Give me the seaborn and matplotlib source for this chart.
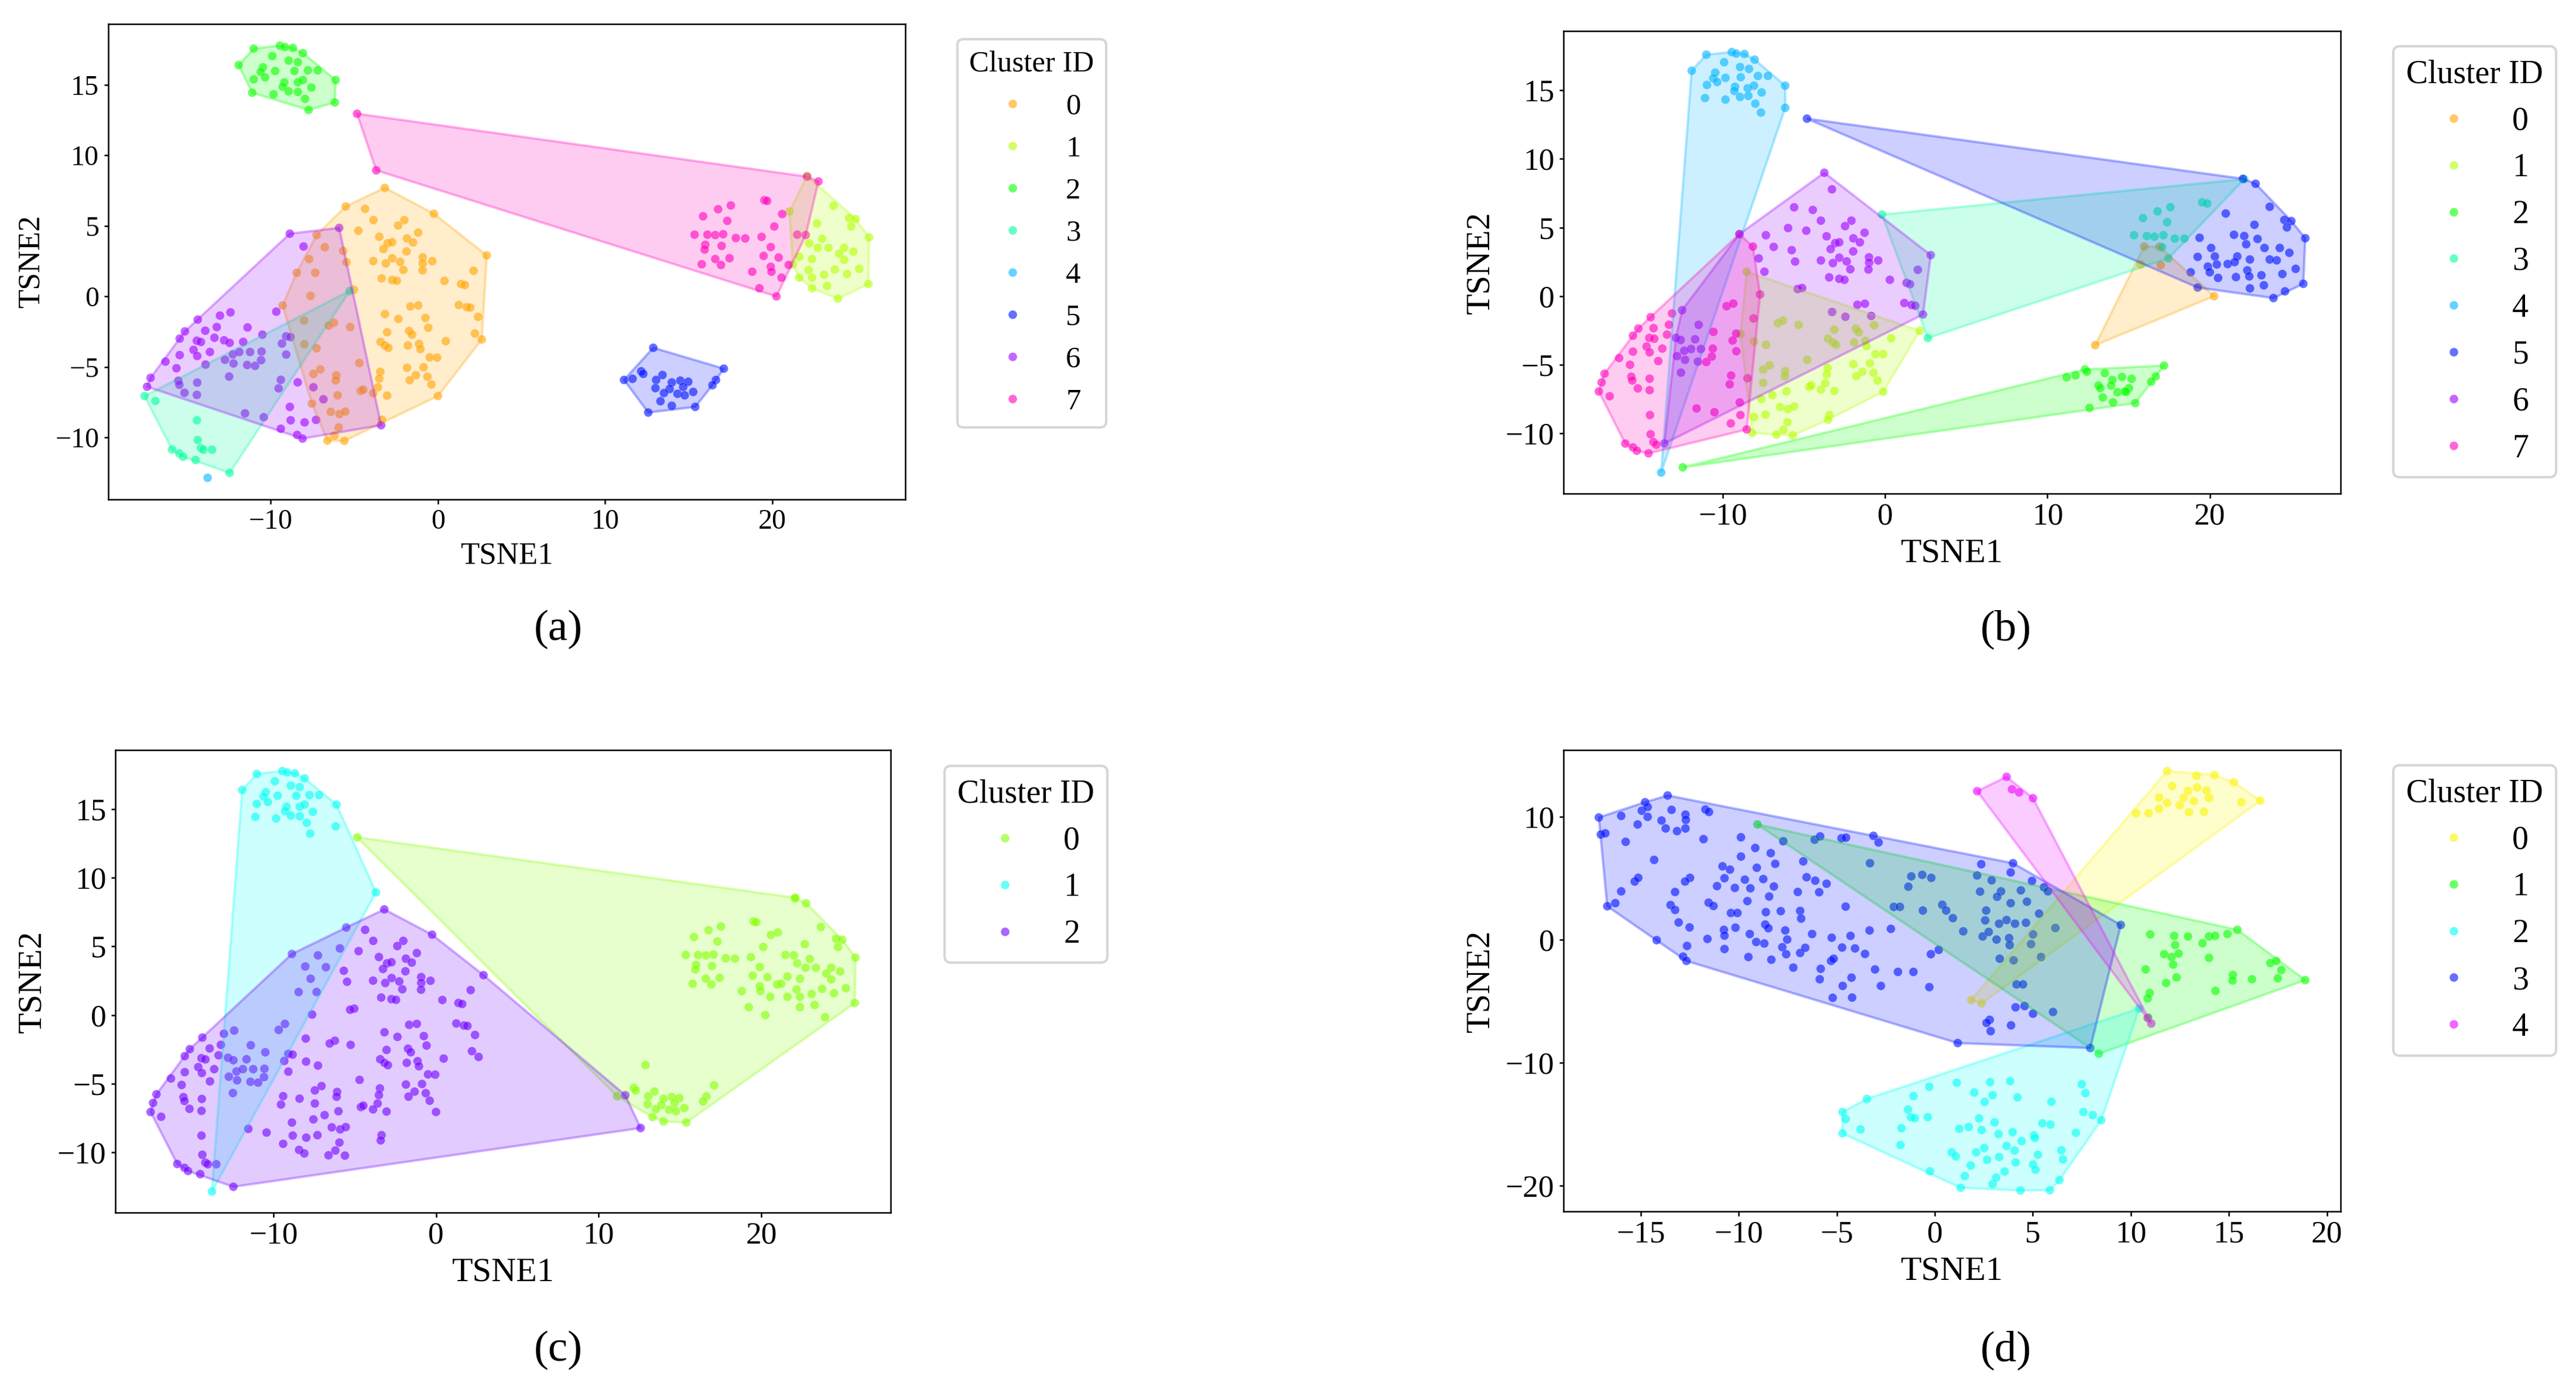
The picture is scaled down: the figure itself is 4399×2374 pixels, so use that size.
import matplotlib
matplotlib.use('Agg')
import matplotlib.pyplot as plt
import pandas as pd
import seaborn as sns
from matplotlib.patches import Polygon
from matplotlib.ticker import MultipleLocator

# --------------------------------------------------
# shared t-SNE embedding used by panels (a) and (c)
TOP_BLOB = [(-11.92, 16.40), (-11.02, 17.57), (-9.45, 17.78), (-9.15, 17.68), (-8.68, 17.62),
            (-8.08, 17.25), (-9.91, 17.04), (-8.93, 16.72), (-8.38, 16.61), (-10.47, 16.24),
            (-10.60, 15.92), (-9.74, 15.98), (-8.59, 15.98), (-7.78, 16.03), (-7.19, 16.03),
            (-11.02, 15.39), (-10.34, 15.53), (-9.19, 15.18), (-9.28, 14.86), (-8.38, 15.18),
            (-8.08, 15.34), (-6.12, 15.34), (-7.57, 14.81), (-8.93, 14.54), (-9.83, 14.33),
            (-11.11, 14.44), (-7.95, 14.01), (-6.17, 13.75), (-7.74, 13.22), (-8.38, 14.49)]

A0_ORANGE = [(-3.18, 7.70), (-5.52, 6.38), (-4.36, 6.21), (-0.24, 5.86), (-3.86, 5.41), (-2.01, 5.41),
             (-2.38, 5.03), (-4.76, 4.66), (-1.18, 4.52), (-7.26, 4.35), (-3.51, 4.23), (-1.85, 4.11),
             (-3.01, 3.77), (-2.74, 3.85), (-1.49, 3.83), (-6.77, 3.49), (-3.26, 3.36), (-1.88, 3.19),
             (-5.67, 3.23), (2.92, 2.91), (-7.71, 2.65), (-5.47, 2.43), (-3.87, 2.51), (-2.73, 2.70),
             (-2.26, 2.45), (-0.91, 2.77), (-0.91, 2.34), (-0.34, 2.50), (-3.12, 2.34), (-2.07, 1.88),
             (-0.92, 1.85), (2.13, 1.82), (-8.45, 1.68), (-7.34, 1.68), (-3.37, 1.28), (-2.74, 1.16),
             (-2.46, 1.11), (0.39, 1.10), (1.38, 0.88), (1.61, 0.81), (-5.03, 0.47), (-7.62, 0.04),
             (-1.65, -0.71), (-1.18, -0.64), (1.25, -0.61), (1.72, -0.76), (1.93, -0.79), (-9.29, -0.64),
             (-3.17, -1.25), (-2.37, -1.59), (-0.75, -1.53), (2.40, -1.45), (-8.01, -1.71), (-6.22, -1.87),
             (-6.54, -2.07), (-5.25, -2.17), (-3.04, -2.54), (-1.72, -2.45), (-1.55, -2.71), (-0.58, -2.22),
             (2.21, -2.63), (2.62, -3.05), (-7.99, -3.39), (-7.26, -3.68), (-3.43, -3.22), (-3.17, -3.48),
             (-2.96, -3.65), (-1.80, -3.48), (-1.13, -3.36), (-1.05, -3.73), (0.47, -3.17), (-0.49, -4.32),
             (-0.05, -4.34), (-4.70, -4.72), (-7.04, -5.17), (-7.45, -5.49), (-6.08, -5.60), (-6.11, -5.95),
             (-3.45, -5.34), (-3.51, -5.83), (-1.85, -5.06), (-0.86, -5.02), (-1.32, -5.58), (-0.63, -5.69),
             (-1.69, -5.94), (-0.39, -6.24), (-3.59, -6.44), (-4.62, -6.70), (-4.47, -6.60), (-3.87, -6.87),
             (-3.04, -7.03), (-6.00, -7.01), (0.00, -7.06), (-7.54, -7.60), (-6.41, -8.18), (-5.89, -8.33),
             (-5.55, -8.16), (-5.94, -9.29), (-3.35, -8.75), (-6.19, -9.87), (-6.61, -10.22), (-5.60, -10.24)]

A1_LIME = [(22.08, 8.55), (21.02, 6.02), (23.66, 6.42), (24.60, 5.55), (24.98, 5.49), (22.68, 5.17),
           (24.72, 4.96), (25.79, 4.19), (22.98, 4.09), (22.21, 3.77), (22.72, 3.45), (23.36, 3.45),
           (24.30, 3.45), (24.00, 3.03), (24.85, 3.18), (21.61, 2.81), (22.38, 2.65), (24.30, 2.60),
           (21.23, 2.28), (25.20, 1.96), (22.17, 1.86), (23.74, 1.91), (23.10, 1.54), (21.61, 1.33),
           (24.47, 1.59), (22.38, 1.33), (22.38, 0.58), (23.28, 0.74), (25.75, 0.88), (23.92, -0.16)]

A3_TEAL = [(-5.28, 0.39), (-17.55, -7.06), (-16.90, -7.41), (-14.42, -8.78), (-14.37, -10.18),
           (-14.18, -10.75), (-14.03, -10.87), (-13.51, -10.87), (-15.91, -10.85), (-15.47, -11.13),
           (-15.25, -11.36), (-14.50, -11.59), (-12.46, -12.51)]

LOW_BLOB = [(12.88, -3.64), (17.10, -5.12), (11.13, -5.92), (12.16, -5.31), (12.28, -5.49), (13.43, -5.57),
            (13.05, -5.92), (13.99, -6.10), (14.50, -5.97), (14.97, -6.05), (16.63, -5.92), (16.42, -6.29),
            (13.01, -6.50), (13.86, -6.56), (14.67, -6.42), (15.27, -6.77), (13.52, -6.85), (14.33, -6.90),
            (14.76, -7.01), (13.31, -7.43), (13.99, -7.75), (15.39, -7.83)]
LOW_EDGE = [(11.64, -5.84), (12.58, -8.23)]

A6_PURPLE = [(-8.86, 4.45), (-5.91, 4.86), (-8.04, 3.54), (-9.67, -1.08), (-12.41, -1.13), (-13.04, -1.36),
             (-14.37, -1.64), (-13.23, -2.17), (-11.39, -2.20), (-13.92, -2.43), (-15.14, -2.48),
             (-15.45, -2.99), (-13.37, -2.93), (-14.42, -3.14), (-14.18, -3.23), (-12.79, -3.11),
             (-12.46, -3.29), (-11.65, -3.22), (-10.50, -2.71), (-9.08, -2.83), (-8.82, -2.88),
             (-9.33, -3.34), (-14.62, -3.79), (-15.45, -4.16), (-14.40, -4.22), (-13.64, -3.94),
             (-12.27, -4.11), (-11.88, -3.94), (-11.24, -3.94), (-10.55, -3.91), (-12.74, -4.49),
             (-12.23, -4.75), (-11.41, -4.86), (-10.94, -4.92), (-10.58, -4.52), (-9.08, -4.12),
             (-16.30, -4.62), (-15.64, -5.09), (-13.90, -4.83), (-12.49, -5.68), (-17.19, -5.77),
             (-15.53, -5.98), (-15.47, -6.26), (-14.40, -6.11), (-9.40, -5.91), (-8.39, -6.09),
             (-17.40, -6.40), (-15.16, -6.83), (-14.42, -6.98), (-9.53, -6.52), (-7.45, -6.44),
             (-6.85, -7.29), (-11.54, -8.29), (-10.42, -8.56), (-8.86, -7.83), (-8.81, -8.78),
             (-7.98, -8.93), (-7.29, -8.75), (-9.40, -9.38), (-8.42, -9.82), (-8.10, -10.08), (-3.40, -9.13)]

A7_PINK = [(22.76, 8.15), (22.08, 8.49), (16.76, 6.18), (17.52, 6.45), (19.53, 6.82), (19.69, 6.77),
           (15.86, 5.68), (20.59, 5.84), (17.31, 5.36), (20.12, 4.96), (15.35, 4.38), (16.12, 4.38),
           (16.59, 4.35), (17.06, 4.41), (17.82, 4.14), (18.38, 4.11), (19.36, 4.22), (21.49, 4.38),
           (22.00, 4.35), (19.91, 3.50), (15.99, 3.66), (15.95, 3.32), (16.97, 3.58), (19.48, 2.87),
           (20.38, 2.76), (17.44, 2.71), (16.59, 2.65), (15.78, 2.28), (16.93, 2.23), (19.91, 2.10),
           (20.98, 2.23), (18.80, 1.75), (19.95, 1.75), (20.55, 1.33), (19.23, 0.58), (20.25, 0.00)]

FAR_PT = [(-4.84, 12.95)]
MID_PT = [(-3.69, 8.94)]
LOW_PT = [(-13.78, -12.86)]

# --------------------------------------------------
# panel (b)
B0_ORANGE = [(12.94, -3.57), (20.27, 0.00), (15.96, 3.62), (16.90, 3.60), (15.73, 2.31), (16.98, 2.26)]

B1_LIME = [(-8.53, 1.78), (-8.91, -2.75), (-8.08, -3.30), (-6.61, -1.97), (-6.30, -1.78), (-5.33, -2.09),
           (-7.34, -3.54), (-3.14, -2.44), (-1.80, -2.36), (-1.63, -2.63), (-0.68, -2.12), (-3.52, -3.10),
           (-3.22, -3.38), (-3.03, -3.54), (-1.91, -3.38), (-1.22, -3.26), (-1.15, -3.65), (0.37, -3.07),
           (2.13, -2.52), (-4.80, -4.64), (-0.60, -4.22), (-0.13, -4.22), (-7.52, -5.35), (-7.12, -5.04),
           (-6.16, -5.46), (-6.18, -5.83), (-3.55, -5.23), (-3.60, -5.70), (-1.96, -4.96), (-0.94, -4.89),
           (-1.41, -5.51), (-1.78, -5.83), (-0.72, -5.59), (-0.47, -6.14), (-7.52, -6.31), (-4.68, -6.61),
           (-4.55, -6.50), (-3.96, -6.80), (-3.69, -6.34), (-3.13, -6.91), (-6.08, -6.93), (-6.95, -7.21),
           (-7.62, -7.49), (-0.12, -6.96), (-6.47, -8.08), (-5.99, -8.23), (-5.61, -8.04), (-8.08, -8.80),
           (-7.37, -8.63), (-3.44, -8.66), (-3.52, -9.00), (-6.02, -9.18), (-6.27, -9.74), (-8.20, -9.96),
           (-6.70, -10.09), (-5.69, -10.14)]

B2_GREEN = [(-12.47, -12.47), (17.18, -5.06), (12.31, -5.34), (12.43, -5.50), (11.18, -5.91), (11.73, -5.77),
            (13.53, -5.61), (13.14, -6.51), (14.00, -6.10), (14.59, -5.88), (15.18, -6.02), (16.67, -5.85),
            (16.39, -6.23), (13.25, -6.70), (13.92, -6.51), (14.31, -7.00), (15.02, -6.70), (14.86, -6.97),
            (13.41, -7.38), (14.04, -7.73), (14.78, -6.94), (15.41, -7.79), (12.59, -8.14)]

B3_TURQ = [(-0.20, 5.94), (2.63, -3.05), (22.12, 8.52), (19.53, 6.83), (19.84, 6.75), (17.57, 6.48),
           (16.78, 6.18), (15.88, 5.69), (17.37, 5.39), (15.33, 4.44), (16.12, 4.38), (16.59, 4.33),
           (17.14, 4.44), (17.84, 4.19), (18.43, 4.19), (17.06, 3.57), (17.45, 2.75)]

B4_SKY = [(-11.92, 16.42), (-11.02, 17.59), (-9.45, 17.78), (-9.18, 17.67), (-8.67, 17.64), (-8.04, 17.23),
          (-9.92, 17.04), (-8.94, 16.69), (-8.39, 16.55), (-10.47, 16.28), (-10.59, 15.87), (-9.84, 15.90),
          (-8.90, 15.95), (-7.84, 16.04), (-7.22, 16.04), (-10.98, 15.38), (-10.35, 15.60), (-9.25, 15.25),
          (-9.29, 14.95), (-8.47, 15.14), (-8.08, 15.33), (-6.16, 15.33), (-7.61, 14.84), (-8.94, 14.51),
          (-9.84, 14.32), (-11.10, 14.43), (-8.00, 14.02), (-6.16, 13.72), (-7.65, 13.37), (-8.43, 14.59),
          (-13.80, -12.85)]

B5_BLUE = [(-4.82, 12.93), (22.04, 8.55), (22.82, 8.19), (20.98, 6.02), (23.69, 6.51), (24.59, 5.55),
           (25.02, 5.47), (22.75, 5.20), (24.75, 5.01), (25.88, 4.22), (19.37, 4.25), (21.49, 4.47),
           (22.12, 4.38), (20.08, 3.51), (22.94, 4.17), (22.24, 3.78), (23.37, 3.51), (24.31, 3.51),
           (24.12, 2.61), (24.90, 3.16), (19.25, 2.86), (20.31, 2.89), (21.69, 2.89), (22.47, 2.67),
           (23.69, 2.67), (20.43, 2.31), (21.10, 2.34), (21.53, 2.48), (25.29, 1.99), (19.88, 2.15),
           (20.00, 1.74), (22.31, 1.88), (23.18, 1.52), (24.47, 1.61), (20.51, 1.33), (21.61, 1.39),
           (22.43, 1.44), (18.82, 1.74), (23.33, 0.79), (22.47, 0.57), (24.63, 0.35), (25.76, 0.90),
           (19.25, 0.63), (23.92, -0.14)]

B6_PURPLE = [(-3.75, 8.99), (-3.28, 7.78), (-5.61, 6.47), (-4.46, 6.28), (-3.96, 5.50), (-2.08, 5.50),
             (-2.47, 5.10), (-5.98, 4.96), (-4.86, 4.77), (-7.35, 4.44), (-8.98, 4.52), (-1.27, 4.62),
             (-3.61, 4.36), (-1.96, 4.21), (-1.56, 3.92), (-3.08, 3.86), (-2.83, 3.92), (-6.87, 3.59),
             (-5.76, 3.35), (-3.36, 3.43), (-1.97, 3.26), (-7.79, 2.75), (-5.55, 2.52), (-3.96, 2.60),
             (-3.22, 2.41), (-2.83, 2.80), (-2.37, 2.53), (-1.00, 2.83), (-0.99, 2.44), (-0.43, 2.60),
             (2.81, 2.99), (-7.44, 1.78), (-2.15, 1.96), (-1.03, 1.94), (2.01, 1.92), (-3.45, 1.37),
             (-2.83, 1.26), (-2.51, 1.19), (0.29, 1.19), (1.32, 0.97), (1.53, 0.87), (-5.39, 0.52),
             (-5.12, 0.59), (-1.71, -0.63), (-1.25, -0.55), (1.18, -0.50), (1.63, -0.64), (1.85, -0.70),
             (2.33, -1.34), (-3.27, -1.15), (-2.45, -1.50), (-0.86, -1.44), (-13.60, -10.73),
             (-12.51, -1.02), (-11.49, -2.09), (-12.89, -3.04), (-12.60, -3.19), (-11.71, -3.14),
             (-12.38, -3.98), (-11.96, -3.85), (-11.35, -3.85), (-12.82, -4.37), (-12.33, -4.64),
             (-11.54, -4.77), (-12.58, -5.57)]

B7_PINK = [(-8.98, 4.52), (-8.15, 3.61), (-7.71, 0.13), (-8.11, -1.62), (-13.13, -1.26), (-14.45, -1.53),
           (-13.32, -2.08), (-15.21, -2.36), (-14.27, -2.33), (-15.54, -2.88), (-14.53, -3.04),
           (-14.23, -3.10), (-13.44, -2.80), (-10.58, -2.60), (-9.77, -0.73), (-9.36, -0.54), (-9.18, -2.73),
           (-9.40, -3.23), (-14.70, -3.67), (-14.51, -4.09), (-13.73, -3.82), (-15.54, -4.04),
           (-10.62, -3.82), (-10.68, -4.40), (-11.02, -4.80), (-9.17, -4.01), (-16.39, -4.51),
           (-13.98, -4.73), (-15.72, -5.00), (-17.29, -5.65), (-17.47, -6.28), (-17.64, -6.94),
           (-16.97, -7.29), (-15.64, -5.87), (-15.58, -6.14), (-14.51, -6.01), (-15.24, -6.72),
           (-14.51, -6.85), (-9.49, -5.78), (-9.58, -6.42), (-8.48, -5.98), (-8.96, -7.74), (-11.62, -8.18),
           (-10.52, -8.45), (-8.92, -8.66), (-9.51, -9.27), (-8.53, -9.71), (-14.49, -8.66),
           (-14.45, -10.06), (-16.01, -10.74), (-15.54, -11.02), (-15.30, -11.26), (-14.58, -11.45),
           (-14.28, -10.63), (-14.10, -10.82)]

# --------------------------------------------------
# panel (d), separate embedding
D0_YELLOW = [(11.85, 13.71), (13.35, 13.33), (14.27, 13.38), (15.26, 12.79), (12.11, 12.49), (13.38, 12.37),
             (12.92, 12.09), (13.86, 12.12), (11.44, 11.55), (12.69, 11.52), (13.22, 11.27), (13.99, 11.52),
             (16.61, 11.30), (15.64, 11.17), (11.85, 11.12), (12.49, 10.93), (11.44, 10.63), (12.97, 10.36),
             (13.73, 10.40), (10.27, 10.28), (10.91, 10.28), (1.86, -4.92), (2.39, -5.19)]

D1_GREEN = [(-9.05, 9.36), (8.37, -9.29), (18.90, -3.30), (15.44, 0.79), (10.99, 0.42), (12.21, 0.30),
            (12.92, 0.25), (13.99, 0.25), (14.30, 0.30), (14.93, 0.45), (13.66, -0.30), (12.26, -0.45),
            (11.70, -1.19), (12.08, -1.42), (12.44, -1.14), (13.99, -1.49), (12.16, -2.04), (10.76, -2.43),
            (17.12, -1.91), (17.42, -1.74), (17.68, -2.48), (15.21, -2.88), (15.19, -3.33), (16.18, -3.23),
            (17.50, -3.15), (12.33, -3.08), (11.80, -3.53), (14.32, -4.17), (10.96, -4.35), (10.86, -4.79),
            (10.89, -6.33)]

D2_CYAN = [(10.43, -5.61), (8.49, -14.70), (6.36, -19.57), (5.87, -20.39), (4.37, -20.41), (2.95, -19.89),
           (1.32, -20.19), (-0.25, -18.85), (-4.71, -15.77), (-4.71, -14.03), (-3.46, -12.96), (-4.55, -14.60),
           (-3.79, -15.45), (-1.70, -15.35), (-1.75, -16.71), (-1.37, -13.83), (-1.22, -14.45), (-1.02, -14.53),
           (-0.36, -14.45), (-1.09, -12.74), (-0.28, -11.97), (1.12, -11.65), (2.01, -12.44), (2.82, -11.60),
           (2.95, -12.66), (2.54, -13.21), (3.84, -11.52), (4.22, -12.84), (5.95, -13.19), (7.50, -11.77),
           (7.68, -12.49), (7.58, -14.03), (8.06, -14.28), (7.20, -15.72), (5.90, -15.05), (5.49, -14.95),
           (3.05, -14.87), (2.26, -14.55), (1.73, -15.25), (1.25, -15.40), (2.39, -15.50), (3.25, -15.82),
           (3.97, -15.67), (5.06, -15.94), (5.11, -16.14), (4.43, -16.39), (3.66, -16.79), (4.07, -17.16),
           (2.52, -16.96), (2.11, -17.31), (0.86, -17.31), (1.07, -17.64), (3.28, -17.69), (2.67, -17.91),
           (5.26, -17.51), (6.46, -17.14), (6.54, -17.89), (4.12, -18.13), (5.01, -18.30), (5.14, -18.72),
           (1.83, -18.38), (3.56, -18.87), (3.13, -19.37), (1.53, -19.24)]

D3_BLUE = [(-17.14, 9.93), (-17.04, 8.54), (-16.81, 8.64), (-16.71, 2.71), (-16.30, 2.96), (-16.00, 10.06),
           (-15.77, 7.95), (-15.16, 9.36), (-14.95, 10.48), (-14.78, 11.17), (-14.65, 10.78), (-14.65, 9.98),
           (-14.32, 6.48), (-15.31, 4.72), (-15.13, 5.02), (-16.00, 3.92), (-13.63, 11.72), (-13.43, 10.55),
           (-13.94, 9.68), (-13.73, 9.04), (-13.15, 8.82), (-12.72, 10.16), (-12.70, 9.73), (-12.72, 9.04),
           (-11.70, 10.58), (-11.52, 10.38), (-11.80, 8.17), (-12.49, 5.02), (-12.74, 4.72), (-13.25, 3.87),
           (-13.48, 2.81), (-13.25, 2.41), (-13.07, 1.39), (-12.51, 0.99), (-14.19, -0.05), (-12.64, -0.52),
           (-12.84, -1.39), (-12.67, -1.74), (-10.83, 5.96), (-10.45, 5.69), (-10.73, 4.99), (-11.11, 4.35),
           (-11.54, 3.00), (-11.29, 2.73), (-10.20, 4.20), (-9.69, 4.87), (-9.41, 4.17), (-9.89, 8.32),
           (-9.16, 7.45), (-9.89, 6.75), (-9.08, 5.84), (-8.37, 7.03), (-8.14, 6.16), (-8.75, 4.92),
           (-8.21, 4.32), (-8.45, 3.50), (-9.56, 3.13), (-10.40, 2.16), (-10.07, 2.16), (-11.60, 0.05),
           (-10.76, 0.79), (-10.73, 0.32), (-10.17, 0.97), (-10.73, -0.77), (-9.44, 0.45), (-9.11, -0.20),
           (-8.70, -0.32), (-9.51, -1.42), (-8.62, 2.23), (-8.65, 1.22), (-8.49, 0.92), (-7.86, 2.31),
           (-7.63, 0.74), (-7.53, 0.00), (-7.78, -0.62), (-7.58, -1.19), (-8.34, -1.64), (-6.87, 2.33),
           (-6.82, 1.71), (-7.22, -2.28), (-6.87, -1.09), (-6.61, -0.67), (-6.99, 3.87), (-6.71, 6.36),
           (-6.54, 5.07), (-6.10, 4.79), (-5.52, 4.54), (-5.90, 3.85), (-7.73, 8.00), (-6.13, 8.12),
           (-5.85, 8.39), (-4.76, 8.24), (-4.53, 8.29), (-3.13, 8.44), (-2.87, 7.90), (-3.31, 6.21),
           (-4.55, 2.68), (-6.26, 0.45), (-5.26, 0.15), (-4.30, 0.30), (-3.33, 0.74), (-2.24, 0.87),
           (-4.73, -0.65), (-4.07, -0.72), (-3.56, -1.17), (-5.29, -1.74), (-5.16, -1.56), (-5.82, -2.38),
           (-5.87, -3.23), (-4.25, -3.10), (-4.70, -3.77), (-5.21, -4.74), (-4.22, -4.72), (-2.75, -3.77),
           (-3.05, -2.43), (-1.88, -2.63), (-1.09, -2.63), (-0.28, -3.87), (-0.20, -1.19), (0.20, -0.84),
           (-2.09, 2.66), (-1.78, 2.66), (-0.61, 2.36), (0.38, 2.83), (0.58, 2.36), (-1.35, 4.30),
           (-1.20, 5.14), (-0.64, 5.26), (-0.18, 5.02), (0.92, 1.74), (1.45, 0.67), (2.37, 6.13),
           (2.16, 5.21), (2.90, 4.82), (2.31, 3.90), (3.38, 3.92), (3.18, 3.48), (3.87, 2.96), (2.62, 2.36),
           (2.57, 1.56), (3.28, 1.29), (3.66, 1.59), (4.09, 1.29), (4.65, 1.37), (4.70, 3.08), (4.39, 4.00),
           (5.32, 2.11), (4.96, 4.77), (5.57, 4.25), (5.77, 3.92), (3.99, 6.21), (3.87, 5.46), (2.44, 0.25),
           (2.75, 0.62), (3.15, 0.00), (3.79, 0.12), (3.82, -0.45), (5.01, 0.42), (4.91, -0.37), (6.15, 0.94),
           (3.31, -1.56), (4.02, -1.69), (5.42, -1.42), (4.17, -3.65), (4.50, -3.65), (4.12, -5.51),
           (4.58, -5.41), (5.01, -6.03), (6.03, -5.89), (2.80, -6.53), (2.64, -6.78), (2.85, -7.45),
           (3.89, -6.98), (1.17, -8.42), (7.93, -8.82), (9.49, 1.19)]

D4_MAGENTA = [(3.66, 13.24), (2.16, 12.07), (3.94, 12.22), (4.30, 11.97), (5.01, 11.50), (10.86, -6.38),
              (11.04, -6.83)]

PANEL_A = [A0_ORANGE, A1_LIME, TOP_BLOB, A3_TEAL, LOW_PT, LOW_BLOB + LOW_EDGE, A6_PURPLE,
           A7_PINK + FAR_PT + MID_PT]
PANEL_B = [B0_ORANGE, B1_LIME, B2_GREEN, B3_TURQ, B4_SKY, B5_BLUE, B6_PURPLE, B7_PINK]
PANEL_C = [A7_PINK + A1_LIME + LOW_BLOB + FAR_PT, TOP_BLOB + MID_PT + LOW_PT,
           A0_ORANGE + A6_PURPLE + A3_TEAL + LOW_EDGE]
PANEL_D = [D0_YELLOW, D1_GREEN, D2_CYAN, D3_BLUE, D4_MAGENTA]

CAPTIONS = ['(a)', '(b)', '(c)', '(d)']

# --------------------------------------------------
W, H, DPI = 4399, 2374, 300


def convex_hull(pts):
    """Monotone chain hull"""
    pts = sorted(set(pts))
    if len(pts) < 3:
        return pts

    def cross(o, a, b):
        return (a[0] - o[0]) * (b[1] - o[1]) - (a[1] - o[1]) * (b[0] - o[0])

    lower, upper = [], []
    for p in pts:
        while len(lower) >= 2 and cross(lower[-2], lower[-1], p) <= 0:
            lower.pop()
        lower.append(p)
    for p in reversed(pts):
        while len(upper) >= 2 and cross(upper[-2], upper[-1], p) <= 0:
            upper.pop()
        upper.append(p)
    return lower[:-1] + upper[:-1]


def draw_panel(fig, clusters, box, leg_xy, caption, cap_xy, fs, steps):
    l, t, r, b = box
    ax = fig.add_axes([l / W, 1 - b / H, (r - l) / W, (b - t) / H])
    n = len(clusters)
    pal = sns.color_palette('hsv', n)
    rows = [(x, y, str(cid)) for cid, pts in enumerate(clusters) for x, y in pts]
    df = pd.DataFrame(rows, columns=['TSNE1', 'TSNE2', 'Cluster ID'])
    order = [str(i) for i in range(n)]
    sns.scatterplot(data=df, x='TSNE1', y='TSNE2', hue='Cluster ID', hue_order=order,
                    palette=pal, alpha=0.6, s=13, linewidth=0.15, edgecolor='white', ax=ax)

    for cid, pts in enumerate(clusters):
        hull = convex_hull(pts)
        if len(hull) < 3:
            continue
        ax.add_patch(Polygon(hull, closed=True, facecolor=(*pal[cid], 0.2),
                             edgecolor=(*pal[cid], 0.3), linewidth=1.0))

    ax.xaxis.set_major_locator(MultipleLocator(steps[0]))
    ax.yaxis.set_major_locator(MultipleLocator(steps[1]))
    ax.tick_params(labelsize=fs[0], length=1.8, width=0.6, pad=2)
    ax.set_xlabel('TSNE1', fontsize=fs[1], labelpad=3)
    ax.set_ylabel('TSNE2', fontsize=fs[1], labelpad=4)
    for sp in ax.spines.values():
        sp.set_linewidth(0.6)

    sns.move_legend(ax, 'upper left', bbox_to_anchor=(leg_xy[0] / W, 1 - leg_xy[1] / H),
                    bbox_transform=fig.transFigure, borderaxespad=0, title='Cluster ID',
                    fontsize=fs[2], title_fontsize=fs[2], frameon=True)

    fig.text(cap_xy[0] / W, 1 - cap_xy[1] / H, caption, ha='center', va='center', fontsize=18)
    return ax


# --------------------------------------------------
def main():
    plt.rcParams['font.family'] = ['Liberation Serif', 'DejaVu Serif']
    plt.rcParams['axes.unicode_minus'] = True

    fig = plt.figure(figsize=(W / DPI, H / DPI), dpi=DPI)

    draw_panel(fig, PANEL_A, (185, 41, 1546, 853), (1635, 67), CAPTIONS[0], (953, 1075),
               (11.5, 12.7, 12.2), (10, 5))
    draw_panel(fig, PANEL_B, (2670, 53, 3997, 843), (4087, 79), CAPTIONS[1], (3425, 1075),
               (12.8, 14.0, 13.4), (10, 5))
    draw_panel(fig, PANEL_C, (197, 1281, 1521, 2071), (1613, 1308), CAPTIONS[2], (953, 2306),
               (12.8, 14.0, 13.4), (10, 5))
    draw_panel(fig, PANEL_D, (2670, 1281, 3997, 2069), (4087, 1307), CAPTIONS[3], (3425, 2306),
               (12.8, 14.0, 13.4), (5, 10))

    fig.savefig('out.png', dpi=DPI)


if __name__ == '__main__':
    main()
